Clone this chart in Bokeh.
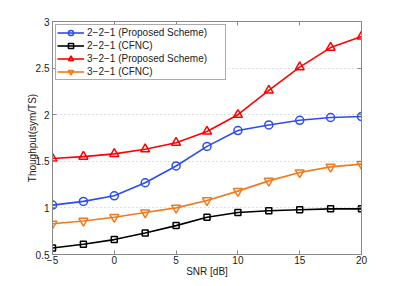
from bokeh.plotting import figure
from bokeh.models import Range1d, LinearAxis, FixedTicker, CustomJSTickFormatter
from bokeh.embed import file_html
from bokeh.resources import INLINE

snr = [-5, -2.5, 0, 2.5, 5, 7.5, 10, 12.5, 15, 17.5, 20]
s221_prop = [1.03, 1.07, 1.13, 1.27, 1.45, 1.66, 1.83, 1.89, 1.94, 1.97, 1.98]
s221_cfnc = [0.57, 0.61, 0.66, 0.73, 0.81, 0.90, 0.95, 0.97, 0.98, 0.99, 0.99]
s321_prop = [1.53, 1.55, 1.58, 1.63, 1.70, 1.82, 2.00, 2.26, 2.51, 2.72, 2.84]
s321_cfnc = [0.83, 0.86, 0.90, 0.95, 1.00, 1.08, 1.18, 1.29, 1.38, 1.44, 1.47]

labels = ["2\u22122\u22121 (Proposed Scheme)", "2\u22122\u22121 (CFNC)",
          "3\u22122\u22121 (Proposed Scheme)", "3\u22122\u22121 (CFNC)"]
x_ticks = [-5, 0, 5, 10, 15, 20]
y_ticks = [0.5, 1, 1.5, 2, 2.5, 3]

FONT = "Liberation Sans"

p = figure(width=397, height=284, output_backend="svg", toolbar_location=None,
           x_range=Range1d(-5, 20), y_range=Range1d(0.5, 3),
           min_border_left=52, min_border_right=36, min_border_top=21, min_border_bottom=30,
           x_axis_label="SNR [dB]", y_axis_label="Thoughput(sym/TS)")
p.outline_line_color = "#888888"
p.background_fill_color = "white"
p.border_fill_color = "white"

for ax in p.xaxis + p.yaxis:
    ax.major_tick_in = 4
    ax.major_tick_out = 0
    ax.minor_tick_line_color = None
    ax.axis_line_color = "#888888"
    ax.major_tick_line_color = "#888888"
    ax.major_label_text_font = FONT
    ax.major_label_text_font_size = "10px"
    ax.major_label_text_color = "#222222"
    ax.axis_label_text_font = FONT
    ax.axis_label_text_font_size = "10px"
    ax.axis_label_text_font_style = "normal"
    ax.axis_label_text_color = "#222222"
p.xaxis.major_label_standoff = 1
p.xaxis.axis_label_standoff = -1
p.yaxis.major_label_standoff = 3
p.yaxis.axis_label_standoff = -5
p.xaxis.ticker = FixedTicker(ticks=x_ticks)
p.xaxis.major_label_overrides = {-5: "\u22125"}
p.yaxis.ticker = FixedTicker(ticks=y_ticks)

for place, tk in (("above", x_ticks), ("right", y_ticks)):
    ax = LinearAxis(ticker=FixedTicker(ticks=tk),
                    formatter=CustomJSTickFormatter(code="return ''"),
                    major_tick_in=4, major_tick_out=0,
                    minor_tick_line_color=None,
                    axis_line_color="#888888", major_tick_line_color="#888888",
                    major_label_standoff=0, major_label_text_font_size="1px")
    p.add_layout(ax, place)

p.xgrid.grid_line_color = None
p.ygrid.grid_line_color = "#bbbbbb"
p.ygrid.grid_line_dash = "1 3"
p.ygrid.grid_line_width = 1

blue = "#2b4cf0"
orange = "#ef7a1f"
series = [
    (s221_prop, blue, "circle", 8),
    (s221_cfnc, "black", "square", 6),
    (s321_prop, "red", "triangle", 9),
    (s321_cfnc, orange, "inverted_triangle", 9),
]
for (vals, col, mk, sz), lab in zip(series, labels):
    p.line(snr, vals, line_color=col, line_width=1.6, legend_label=lab)
    p.scatter(snr, vals, marker=mk, size=sz, line_color=col, line_width=1.5,
              fill_color=None, legend_label=lab)

lg = p.legend[0]
lg.location = "top_left"
lg.margin = 3
lg.padding = 1
lg.spacing = 0
lg.glyph_width = 27
lg.glyph_height = 13
lg.label_height = 13
lg.label_width = 137
lg.label_standoff = 3
lg.label_text_font = FONT
lg.label_text_font_size = "10px"
lg.label_text_color = "#222222"
lg.border_line_color = "#555555"
lg.border_line_width = 1
lg.background_fill_alpha = 1

open("out.html", "w").write(file_html(p, INLINE))
